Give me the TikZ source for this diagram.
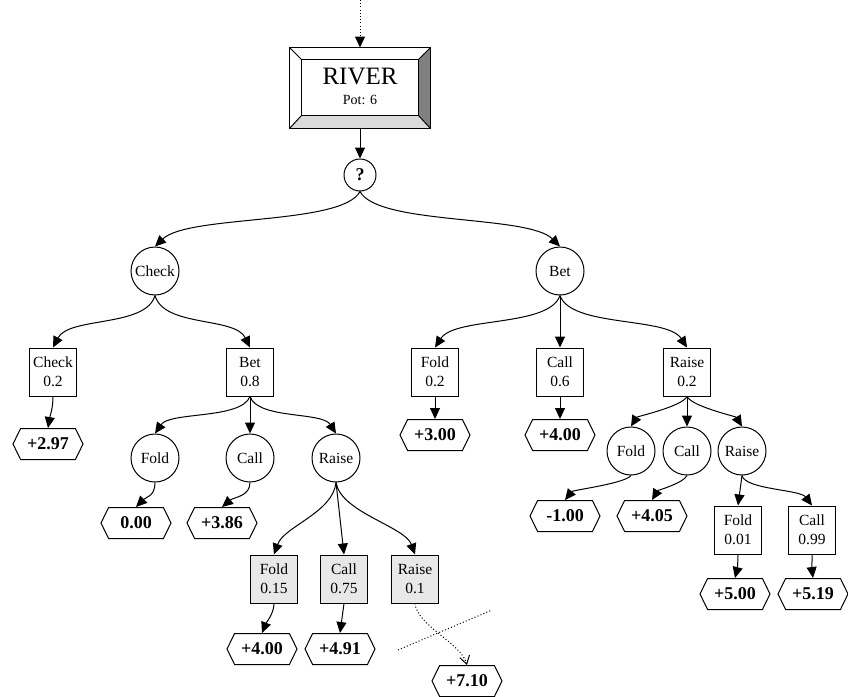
\documentclass[tikz,border=0pt]{standalone}
\usepackage{fontspec}
\setmainfont{Liberation Serif}
\usetikzlibrary{arrows.meta,shapes.symbols}

\begin{document}
\begin{tikzpicture}[x=1pt,y=-1pt,line width=1pt,
  chance/.style={circle,draw,minimum size=48pt,inner sep=0pt,
    font=\fontsize{15.5}{18}\selectfont},
  choice/.style={rectangle,draw,minimum width=47pt,minimum height=48pt,
    inner sep=1pt,align=center,font=\fontsize{15.5}{19}\selectfont},
  shaded/.style={choice,fill=black!9},
  payoff/.style={signal,signal to=west and east,signal pointer angle=128,
    draw,minimum width=70pt,minimum height=31pt,inner sep=1pt,
    font=\fontsize{18}{18}\bfseries\selectfont},
  conn/.style={-{Triangle[length=11pt,width=10pt]}},
  cut/.style={dash pattern=on 1pt off 2.2pt},
]
\useasboundingbox (0,0) rectangle (848,696);

% ---- bevelled RIVER header ----
\node[minimum width=140pt,minimum height=80pt,inner sep=0pt] (frame) at (360,88) {};
\node[minimum width=116pt,minimum height=55pt,inner sep=0pt] (river) at (360,87.5) {};
\fill[black!50] (frame.north east) -- (frame.south east) -- (river.south east) -- (river.north east) -- cycle;
\fill[black!14] (frame.south west) -- (frame.south east) -- (river.south east) -- (river.south west) -- cycle;
\draw (frame.north west) rectangle (frame.south east);
\draw (river.north west) rectangle (river.south east);
\draw (frame.north west) -- (river.north west)
      (frame.north east) -- (river.north east)
      (frame.south west) -- (river.south west)
      (frame.south east) -- (river.south east);
\node[font=\fontsize{25}{25}\selectfont] (rivertitle) at (360,77) {RIVER};
\node[font=\fontsize{14}{14}\selectfont] (riverpot) at (360,100) {Pot: 6};

\coordinate (entry) at (360,0);
\draw[cut,conn] (entry) -- (frame.north);

% ---- root ----
\node[circle,draw,minimum size=32pt,inner sep=0pt,font=\fontsize{18}{18}\bfseries\selectfont] (q) at (360,175) {?};
\draw[conn] (frame.south) -- (q.north);

% ---- first action ----
\node[chance] (chk) at (155,271) {Check};
\node[chance] (bet) at (560,271) {Bet};
\draw[conn] (q.south) .. controls +(-18,34) and +(33,-32) .. (chk.north);
\draw[conn] (q.south) .. controls +(18,34) and +(-32,-32) .. (bet.north);

% ---- replies to Check ----
\node[choice] (b1) at (53,372) {Check\\0.2};
\node[choice] (b2) at (250,372) {Bet\\0.8};
\draw[conn] (chk.south) .. controls +(-9,32) and +(16,-31) .. (b1.north);
\draw[conn] (chk.south) .. controls +(9,32) and +(-15,-31) .. (b2.north);

\node[payoff] (l297) at (48,444) {+2.97};
\draw[conn] (b1.south) .. controls +(0,12) and +(2,-12) .. (l297.north);

\node[chance] (cf) at (155,458) {Fold};
\node[chance] (cc) at (250,458) {Call};
\node[chance] (cr) at (336,458) {Raise};
\draw[conn] (b2.south) .. controls +(-9,23) and +(15,-22) .. (cf.north);
\draw[conn] (b2.south) -- (cc.north);
\draw[conn] (b2.south) .. controls +(8,23) and +(-14,-22) .. (cr.north);

\node[payoff] (l000) at (136,523) {0.00};
\node[payoff] (l386) at (222,523) {+3.86};
\draw[conn] (cf.south) .. controls +(0,14) and +(10,-10) .. (l000.north);
\draw[conn] (cc.south) .. controls +(0,14) and +(12,-10) .. (l386.north);

\node[shaded] (b6) at (274,579) {Fold\\0.15};
\node[shaded] (b7) at (344,579) {Call\\0.75};
\node[shaded] (b8) at (415,579) {Raise\\0.1};
\draw[conn] (cr.south) .. controls +(-3,30) and +(10,-28) .. (b6.north);
\draw[conn] (cr.south) -- (b7.north);
\draw[conn] (cr.south) .. controls +(5,30) and +(-10,-28) .. (b8.north);

\node[payoff] (l400b) at (262,649) {+4.00};
\node[payoff] (l491) at (340,649) {+4.91};
\node[payoff] (l710) at (467,681) {+7.10};
\draw[conn] (b6.south) .. controls +(0,10) and +(4,-10) .. (l400b.north);
\draw[conn] (b7.south) -- (l491.north);
\draw[cut,-{Straight Barb[length=8pt,width=10pt]}] (b8.south) .. controls +(2,22) and +(-6,-22) .. (l710.north);
\coordinate (cutA) at (398,650);
\coordinate (cutB) at (492,610);
\draw[cut] (cutA) -- (cutB);

% ---- replies to Bet ----
\node[choice] (b3) at (435,372) {Fold\\0.2};
\node[choice] (b4) at (560,372) {Call\\0.6};
\node[choice] (b5) at (687,372) {Raise\\0.2};
\draw[conn] (bet.south) .. controls +(-11,32) and +(20,-31) .. (b3.north);
\draw[conn] (bet.south) -- (b4.north);
\draw[conn] (bet.south) .. controls +(11,32) and +(-20,-31) .. (b5.north);

\node[payoff] (l300) at (435,435) {+3.00};
\node[payoff] (l400) at (560,435) {+4.00};
\draw[conn] (b3.south) -- (l300.north);
\draw[conn] (b4.south) -- (l400.north);

\node[chance] (rf) at (631,451) {Fold};
\node[chance] (rc) at (687,451) {Call};
\node[chance] (rr) at (742,451) {Raise};
\draw[conn] (b5.south) .. controls +(-5,10) and +(6,-10) .. (rf.north);
\draw[conn] (b5.south) -- (rc.north);
\draw[conn] (b5.south) .. controls +(5,10) and +(-6,-10) .. (rr.north);

\node[payoff] (lm100) at (565,516) {-1.00};
\node[payoff] (l405) at (652,516) {+4.05};
\draw[conn] (rf.south) .. controls +(-6,8) and +(8,-10) .. (lm100.north);
\draw[conn] (rc.south) .. controls +(-4,8) and +(6,-10) .. (l405.north);

\node[choice] (b9) at (738,530) {Fold\\0.01};
\node[choice] (b10) at (812,530) {Call\\0.99};
\draw[conn] (rr.south) -- (b9.north);
\draw[conn] (rr.south) .. controls +(3,14) and +(-12,-16) .. (b10.north);

\node[payoff] (l500) at (735,594) {+5.00};
\node[payoff] (l519) at (813,594) {+5.19};
\draw[conn] (b9.south) .. controls +(0,8) and +(2,-8) .. (l500.north);
\draw[conn] (b10.south) .. controls +(0,8) and +(-1,-8) .. (l519.north);
\end{tikzpicture}
\end{document}
